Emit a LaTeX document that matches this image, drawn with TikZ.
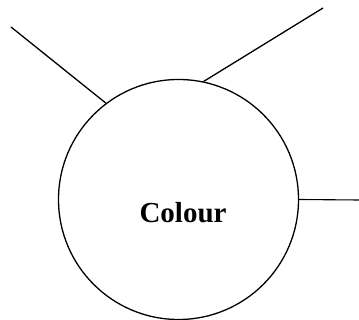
\documentclass[tikz,border=0pt]{standalone}
\usepackage{fontspec}
\setmainfont{Liberation Serif}
\begin{document}
\begin{tikzpicture}[x=1pt,y=-1pt,
  lin/.style={line width=1.3pt,black},
  bubble/.style={circle,draw,line width=1.3pt,minimum size=240pt,inner sep=0pt}]
\useasboundingbox (0,0) rectangle (359,320);
\node[bubble] (c) at (178.5,199.5) {};
\node[anchor=base,font=\fontsize{29}{32}\selectfont\bfseries,inner sep=0pt] (t) at (183,223) {Colour};
\coordinate (e1) at (11,27);
\coordinate (e2) at (323,8);
\coordinate (e3) at (359,200);
\draw[lin] (c.127.2) -- (e1);
\draw[lin] (c.78.5) -- (e2);
\draw[lin,line width=1.1pt] (c.0) -- (e3);
\end{tikzpicture}
\end{document}
